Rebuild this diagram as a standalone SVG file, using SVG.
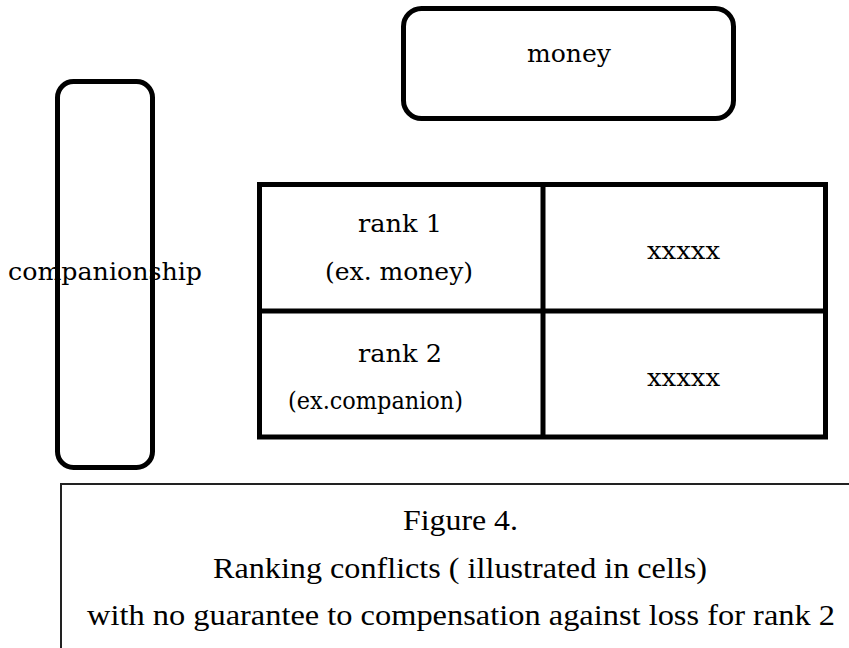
<svg xmlns="http://www.w3.org/2000/svg" width="849" height="648" viewBox="0 0 849 648">
<style>
  .box { fill: none; stroke: #000; stroke-width: 5; }
  .grid { fill: none; stroke: #000; stroke-width: 5; stroke-linecap: square; }
  .lbl { font-family: "DejaVu Serif", "Liberation Serif", serif; font-size: 24px; fill: #000; }
  .cap { font-family: "Liberation Serif", "DejaVu Serif", serif; font-size: 30px; fill: #000; }
</style>
<rect width="849" height="648" fill="#fff"/>
<g id="caption">
  <rect x="61" y="484" width="820" height="220" fill="#fff" stroke="#222" stroke-width="2"/>
  <text class="cap" x="403" y="530" textLength="115" lengthAdjust="spacingAndGlyphs">Figure 4.</text>
  <text class="cap" x="213" y="578" textLength="494" lengthAdjust="spacingAndGlyphs">Ranking conflicts ( illustrated in cells)</text>
  <text class="cap" x="87" y="625" textLength="748" lengthAdjust="spacingAndGlyphs">with no guarantee to compensation against loss for rank 2</text>
</g>
<g id="money">
  <rect class="box" x="403.5" y="8.5" width="330" height="110" rx="18" ry="18" style="fill:#fff"/>
  <text class="lbl" x="527" y="62" textLength="84" lengthAdjust="spacingAndGlyphs">money</text>
</g>
<g id="companionship">
  <rect class="box" x="57.5" y="81.5" width="95" height="386" rx="16" ry="16"/>
  <text class="lbl" x="8" y="280" textLength="194" lengthAdjust="spacingAndGlyphs">companionship</text>
</g>
<g id="table">
  <path class="grid" d="M259.5 184.5 H825.5 V437 H259.5 Z M543 184.5 V437 M259.5 311 H825.5"/>
</g>
<g id="cell-rank1">
  <text class="lbl" x="358" y="232" textLength="84" lengthAdjust="spacingAndGlyphs">rank 1</text>
  <text class="lbl" x="325" y="280" textLength="148" lengthAdjust="spacingAndGlyphs">(ex. money)</text>
</g>
<g id="cell-x1">
  <text class="lbl" x="647" y="259" textLength="73" lengthAdjust="spacingAndGlyphs">xxxxx</text>
</g>
<g id="cell-rank2">
  <text class="lbl" x="358" y="362" textLength="84" lengthAdjust="spacingAndGlyphs">rank 2</text>
  <text class="lbl" x="288" y="409" textLength="175" lengthAdjust="spacingAndGlyphs">(ex.companion)</text>
</g>
<g id="cell-x2">
  <text class="lbl" x="647" y="386" textLength="73" lengthAdjust="spacingAndGlyphs">xxxxx</text>
</g>
<g id="connectors"/>
</svg>
